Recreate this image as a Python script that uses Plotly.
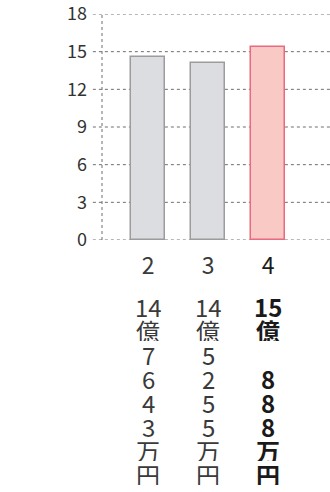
import plotly.graph_objects as go

categories = [2, 3, 4]
values = [14.55, 14.12, 15.35]
y_ticks = [0, 3, 6, 9, 12, 15, 18]
amount_lines = [
    ["14", "億", "7", "6", "4", "3", "万", "円"],
    ["14", "億", "5", "2", "5", "5", "万", "円"],
    ["15", "億", "", "8", "8", "8", "万", "円"],
]

FONT = "Noto Sans CJK JP"
fill_colors = ["#dcdde0", "#dcdde0", "#f9c9c5"]
line_colors = ["#9c9c9c", "#9c9c9c", "#ea6a80"]

fig = go.Figure()
fig.add_trace(go.Bar(
    x=categories, y=values, width=0.57,
    marker=dict(color=fill_colors, line=dict(color=line_colors, width=1.5)),
    showlegend=False, hoverinfo="skip",
))

# dotted gridlines extending left as ticks
for v in y_ticks:
    fig.add_shape(type="line", xref="paper", yref="y", x0=-0.04, x1=1, y0=v, y1=v,
                  line=dict(color="#6f6f6f", width=1, dash="dot"), layer="below")
# dotted y axis line
fig.add_shape(type="line", xref="paper", yref="y", x0=0, x1=0, y0=0, y1=18,
              line=dict(color="#6f6f6f", width=1, dash="dot"), layer="below")

step = 24.0
for ci, (cat, lines) in enumerate(zip(categories, amount_lines)):
    last = ci == len(categories) - 1
    for li, txt in enumerate(lines):
        if not txt:
            continue
        fig.add_annotation(
            x=cat, xref="x", y=0, yref="paper", yanchor="middle", xanchor="center",
            yshift=-(66 + li * step), showarrow=False,
            text=txt, height=21, borderpad=0, valign="middle",
            font=dict(family=FONT, size=24, color="#1a1a1a" if last else "#3a3a3a",
                      weight=600 if last else 400),
        )

tick_text = ["2", "3", "<span style='color:#1a1a1a'>4</span>"]
fig.update_layout(
    width=330, height=492,
    margin=dict(l=102, r=0, t=14, b=252),
    paper_bgcolor="white", plot_bgcolor="white",
    font=dict(family=FONT, color="#333333"),
    bargap=0,
    xaxis=dict(range=[1.23, 5.03], tickvals=categories, ticktext=tick_text,
               showgrid=False, zeroline=False, showline=False, ticks="",
               ticklabelstandoff=10,
               tickfont=dict(size=23, color="#3a3a3a", family=FONT)),
    yaxis=dict(range=[0, 18], tickvals=y_ticks, showgrid=False, zeroline=False,
               showline=False, ticks="", ticklabelstandoff=14,
               ticklabeloverflow="allow",
               tickfont=dict(size=18, color="#333333", family=FONT)),
)

fig.write_html("out.html")
